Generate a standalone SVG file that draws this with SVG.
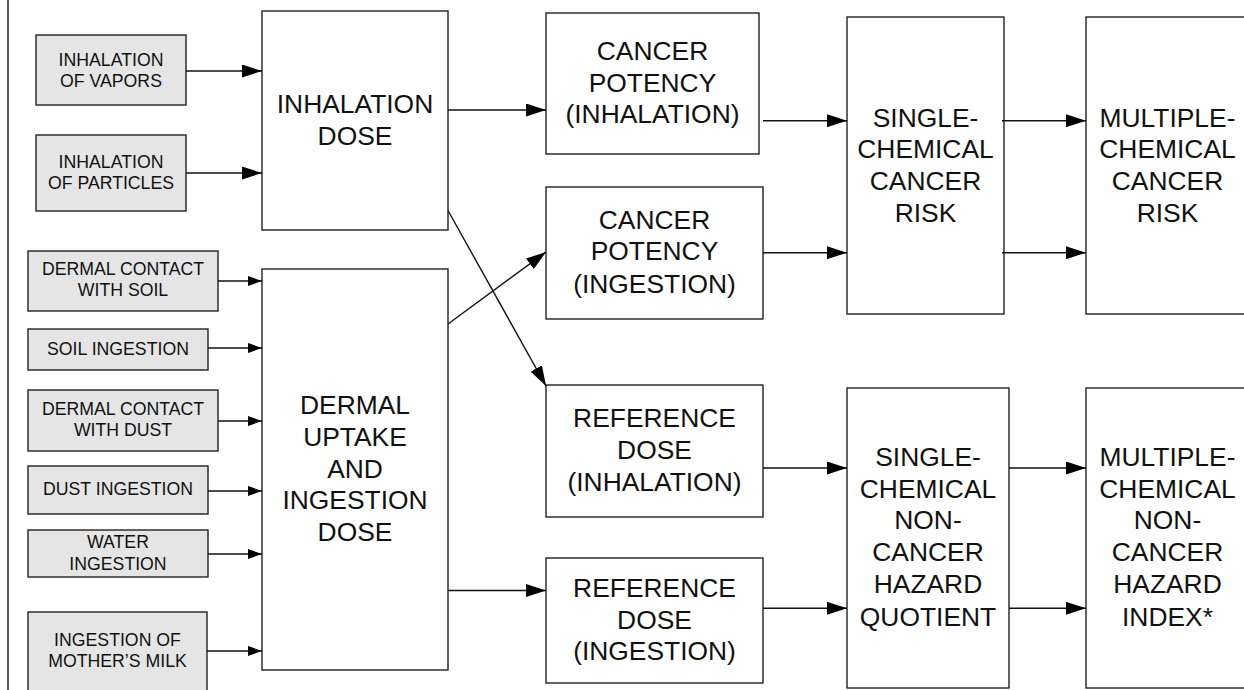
<svg xmlns="http://www.w3.org/2000/svg" width="1244" height="690" viewBox="0 0 1244 690">
<style>
.box{fill:#fff;stroke:#222;stroke-width:1.4}
.src{fill:#e5e5e5;stroke:#222;stroke-width:1.4}
.big{font-family:"Liberation Sans",Arial,sans-serif;font-size:26.4px;fill:#111;text-anchor:middle}
.sm{font-family:"Liberation Sans",Arial,sans-serif;font-size:17.7px;fill:#111;text-anchor:middle}
.ln{stroke:#111;stroke-width:1.4;fill:none}
</style>
<defs>
<marker id="aL" markerUnits="userSpaceOnUse" markerWidth="20" markerHeight="13" refX="20" refY="6.5" orient="auto"><path d="M0,0 L20,6.5 L0,13 z" fill="#000"/></marker>
<marker id="aS" markerUnits="userSpaceOnUse" markerWidth="14" markerHeight="10" refX="14" refY="5" orient="auto"><path d="M0,0 L14,5 L0,10 z" fill="#000"/></marker>
</defs>
<rect width="1244" height="690" fill="#fff"/>
<line x1="8" y1="0" x2="8" y2="690" stroke="#111" stroke-width="1.4"/>

<g id="vapors"><rect class="src" x="36" y="35" width="150" height="70"/><text class="sm" x="111" y="66">INHALATION</text><text class="sm" x="111" y="87">OF VAPORS</text></g>
<g id="particles"><rect class="src" x="36" y="135" width="150" height="76"/><text class="sm" x="111" y="168">INHALATION</text><text class="sm" x="111" y="189">OF PARTICLES</text></g>
<g id="dermal-soil"><rect class="src" x="28" y="251" width="190" height="60"/><text class="sm" x="123" y="275">DERMAL CONTACT</text><text class="sm" x="123" y="296">WITH SOIL</text></g>
<g id="soil-ingestion"><rect class="src" x="28" y="329" width="180" height="41"/><text class="sm" x="118" y="355">SOIL INGESTION</text></g>
<g id="dermal-dust"><rect class="src" x="28" y="390" width="190" height="61"/><text class="sm" x="123" y="415">DERMAL CONTACT</text><text class="sm" x="123" y="436">WITH DUST</text></g>
<g id="dust-ingestion"><rect class="src" x="28" y="466" width="180" height="48"/><text class="sm" x="118" y="495">DUST INGESTION</text></g>
<g id="water-ingestion"><rect class="src" x="28" y="530" width="180" height="47"/><text class="sm" x="118" y="548">WATER</text><text class="sm" x="118" y="570">INGESTION</text></g>
<g id="mothers-milk"><rect class="src" x="28" y="612" width="179" height="90"/><text class="sm" x="117.5" y="646">INGESTION OF</text><text class="sm" x="117.5" y="667">MOTHER’S MILK</text></g>

<g id="inhalation-dose"><rect class="box" x="262" y="11" width="186" height="219"/><text class="big" x="355" y="113">INHALATION</text><text class="big" x="355" y="145">DOSE</text></g>
<g id="dermal-uptake"><rect class="box" x="262" y="269" width="186" height="401"/><text class="big" x="355" y="414">DERMAL</text><text class="big" x="355" y="446">UPTAKE</text><text class="big" x="355" y="477.5">AND</text><text class="big" x="355" y="509">INGESTION</text><text class="big" x="355" y="541">DOSE</text></g>

<g id="cp-inhalation"><rect class="box" x="546" y="13" width="213" height="141"/><text class="big" x="652.5" y="60">CANCER</text><text class="big" x="652.5" y="92">POTENCY</text><text class="big" x="652.5" y="123">(INHALATION)</text></g>
<g id="cp-ingestion"><rect class="box" x="546" y="187" width="217" height="132"/><text class="big" x="654.5" y="228.5">CANCER</text><text class="big" x="654.5" y="260">POTENCY</text><text class="big" x="654.5" y="292.5">(INGESTION)</text></g>
<g id="rd-inhalation"><rect class="box" x="546" y="385" width="217" height="132"/><text class="big" x="654.5" y="427">REFERENCE</text><text class="big" x="654.5" y="458.5">DOSE</text><text class="big" x="654.5" y="490.5">(INHALATION)</text></g>
<g id="rd-ingestion"><rect class="box" x="546" y="558" width="217" height="125"/><text class="big" x="654.5" y="597">REFERENCE</text><text class="big" x="654.5" y="628.5">DOSE</text><text class="big" x="654.5" y="660">(INGESTION)</text></g>

<g id="sc-cancer"><rect class="box" x="847" y="17" width="157" height="297"/><text class="big" x="925.5" y="126.7">SINGLE-</text><text class="big" x="925.5" y="158.3">CHEMICAL</text><text class="big" x="925.5" y="190">CANCER</text><text class="big" x="925.5" y="221.7">RISK</text></g>
<g id="mc-cancer"><rect class="box" x="1086" y="17" width="163" height="297"/><text class="big" x="1167.5" y="126.7">MULTIPLE-</text><text class="big" x="1167.5" y="158.3">CHEMICAL</text><text class="big" x="1167.5" y="190">CANCER</text><text class="big" x="1167.5" y="221.7">RISK</text></g>
<g id="sc-noncancer"><rect class="box" x="847" y="388" width="162" height="300"/><text class="big" x="928" y="465.7">SINGLE-</text><text class="big" x="928" y="497.7">CHEMICAL</text><text class="big" x="928" y="529.3">NON-</text><text class="big" x="928" y="561">CANCER</text><text class="big" x="928" y="592.7">HAZARD</text><text class="big" x="928" y="625.7">QUOTIENT</text></g>
<g id="mc-noncancer"><rect class="box" x="1086" y="388" width="163" height="300"/><text class="big" x="1167.5" y="465.7">MULTIPLE-</text><text class="big" x="1167.5" y="497.7">CHEMICAL</text><text class="big" x="1167.5" y="529.3">NON-</text><text class="big" x="1167.5" y="561">CANCER</text><text class="big" x="1167.5" y="592.7">HAZARD</text><text class="big" x="1167.5" y="625.7">INDEX*</text></g>

<g id="connectors" class="ln">
<line x1="186" y1="71" x2="262" y2="71" marker-end="url(#aL)"/>
<line x1="186" y1="173" x2="262" y2="173" marker-end="url(#aL)"/>
<line x1="218" y1="281" x2="262" y2="281" marker-end="url(#aS)"/>
<line x1="208" y1="348" x2="262" y2="348" marker-end="url(#aS)"/>
<line x1="218" y1="421" x2="262" y2="421" marker-end="url(#aS)"/>
<line x1="208" y1="491" x2="262" y2="491" marker-end="url(#aS)"/>
<line x1="208" y1="554" x2="262" y2="554" marker-end="url(#aS)"/>
<line x1="207" y1="651" x2="262" y2="651" marker-end="url(#aS)"/>
<line x1="448" y1="110" x2="546" y2="110" marker-end="url(#aL)"/>
<line x1="448" y1="210.5" x2="546" y2="386" marker-end="url(#aL)"/>
<line x1="448" y1="324" x2="546" y2="252" marker-end="url(#aL)"/>
<line x1="448" y1="590.5" x2="546" y2="590.5" marker-end="url(#aL)"/>
<line x1="763" y1="120.7" x2="847" y2="120.7" marker-end="url(#aL)"/>
<line x1="763" y1="252.7" x2="847" y2="252.7" marker-end="url(#aL)"/>
<line x1="763" y1="468" x2="847" y2="468" marker-end="url(#aL)"/>
<line x1="763" y1="608.3" x2="847" y2="608.3" marker-end="url(#aL)"/>
<line x1="1002" y1="120.7" x2="1086" y2="120.7" marker-end="url(#aL)"/>
<line x1="1002" y1="252.7" x2="1086" y2="252.7" marker-end="url(#aL)"/>
<line x1="1009" y1="468" x2="1086" y2="468" marker-end="url(#aL)"/>
<line x1="1009" y1="608.3" x2="1086" y2="608.3" marker-end="url(#aL)"/>
</g>
</svg>
